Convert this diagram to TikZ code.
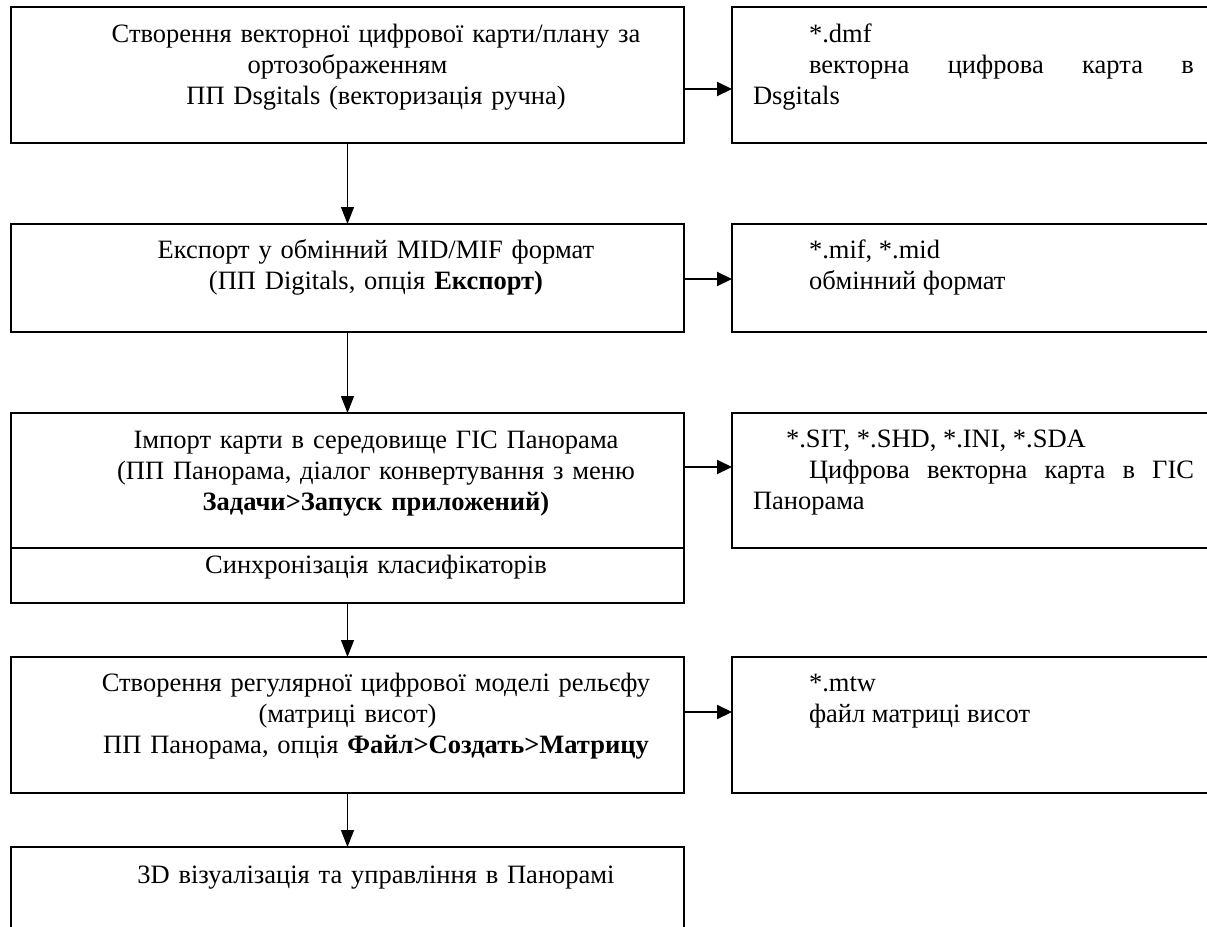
\documentclass[tikz,border=0pt]{standalone}
\usepackage{fontspec}
\setmainfont{Liberation Serif}
\usetikzlibrary{arrows.meta, positioning}
\newcommand{\parstart}{\hspace*{57pt}}
\tikzset{
  flowbox/.style={draw, line width=1.5pt, outer sep=0pt, inner xsep=8pt, inner ysep=2pt,
                  minimum width=673pt, text width=657pt, align=center,
                  font=\fontsize{26.5}{31}\selectfont, text height=20pt},
  filebox/.style={flowbox, minimum width=483pt, inner xsep=21pt, text width=441pt, align=justify},
  flowarrow/.style={-{Triangle[length=17pt, width=13pt]}, line width=1.2pt},
  filearrow/.style={-{Triangle[length=15pt, width=14pt]}, line width=2pt}
}
\begin{document}
\begin{tikzpicture}
\useasboundingbox (0,0) rectangle (1207pt,-926pt);
\clip (0,0) rectangle (1207pt,-926pt);

% Processing steps (left column)
\node[flowbox, anchor=north west, minimum height=136pt, text depth=86pt] (cartbox) at (11pt,-7pt)
  {\parstart Створення векторної цифрової карти/плану за\\ ортозображенням\\
   \parstart ПП Dsgitals (векторизація ручна)};
\node[flowbox, below=81pt of cartbox, minimum height=108pt, text depth=60pt] (exportbox)
  {\parstart Експорт у обмінний MID/MIF формат\\
   \parstart (ПП Digitals, опція \textbf{Експорт)}};
\node[flowbox, below=81pt of exportbox, minimum height=135pt, text depth=85pt] (importbox)
  {\parstart Імпорт карти в середовище ГІС Панорама\\
   \parstart (ПП Панорама, діалог конвертування з меню\\
   \parstart \textbf{Задачи>Запуск приложений)}};
\node[flowbox, below=0pt of importbox, minimum height=55pt, text depth=25pt] (syncbox)
  {\parstart Синхронізація класифікаторів};
\node[flowbox, below=54pt of syncbox, minimum height=136pt, text depth=88pt] (reliefbox)
  {\parstart Створення регулярної цифрової моделі рельєфу\\ (матриці висот)\\
   \parstart ПП Панорама, опція \textbf{Файл>Создать>Матрицу}};
\node[flowbox, below=54pt of reliefbox, minimum height=136pt, text depth=84pt] (viewbox)
  {\parstart 3D візуалізація та управління в Панорамі};

% Output files (right column)
\node[filebox, right=48pt of cartbox, minimum height=136pt, text depth=86pt] (dmfbox)
  {\hspace*{56pt}*.dmf\par
   \hspace*{56pt}векторна цифрова карта в\linebreak Dsgitals};
\node[filebox, right=48pt of exportbox, minimum height=108pt, text depth=60pt] (mifbox)
  {\hspace*{56pt}*.mif, *.mid\par
   \hspace*{56pt}обмінний формат};
\node[filebox, right=48pt of importbox, minimum height=135pt, text depth=87pt] (sitbox)
  {\hspace*{33pt}*.SIT, *.SHD, *.INI, *.SDA\par
   \hspace*{56pt}Цифрова векторна карта в ГІС\linebreak Панорама};
\node[filebox, right=48pt of reliefbox, minimum height=136pt, text depth=88pt] (mtwbox)
  {\hspace*{56pt}*.mtw\par
   \hspace*{56pt}файл матриці висот};

% Arrows - main flow
\draw[flowarrow] (cartbox) -- (exportbox);
\draw[flowarrow] (exportbox) -- (importbox);
\draw[flowarrow] (syncbox) -- (reliefbox);
\draw[flowarrow] (reliefbox) -- (viewbox);

% Arrows to output files
\draw[filearrow] ([yshift=-14pt]cartbox.east) -- ([yshift=-14pt]dmfbox.west);
\draw[filearrow] ([yshift=-1pt]exportbox.east) -- ([yshift=-1pt]mifbox.west);
\draw[filearrow] ([yshift=13.5pt]importbox.east) -- ([yshift=13.5pt]sitbox.west);
\draw[filearrow] ([yshift=13pt]reliefbox.east) -- ([yshift=13pt]mtwbox.west);

\end{tikzpicture}
\end{document}
